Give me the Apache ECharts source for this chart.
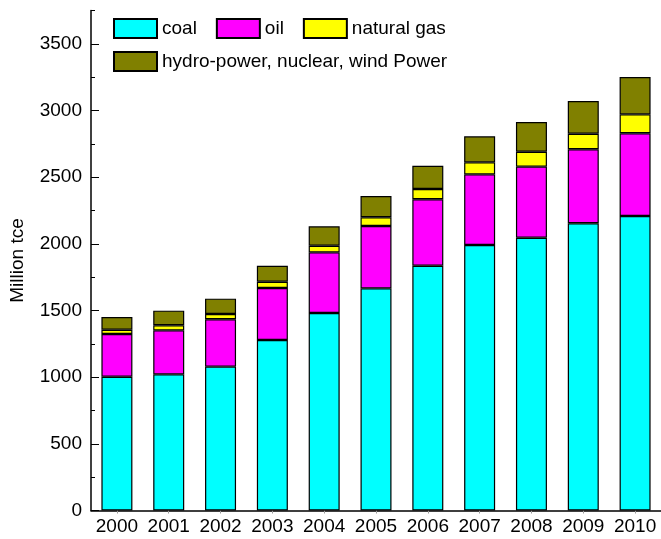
<!DOCTYPE html>
<html>
<head>
<meta charset="utf-8">
<script src="https://cdn.jsdelivr.net/npm/echarts@6/dist/echarts.min.js"></script>
<style>html,body{margin:0;padding:0;background:#fff;}#c{width:661px;height:539px;}</style>
</head>
<body>
<div id="c"></div>
<script>
const years = ['2000','2001','2002','2003','2004','2005','2006','2007','2008','2009','2010'];
const coal  = [1003, 1021, 1079, 1279, 1481, 1666, 1836, 1991, 2046, 2154, 2209];
const oil   = [321, 330, 355, 390, 455, 468, 498, 530, 533, 555, 620];
const gas   = [32, 38, 40, 47, 50, 65, 77, 90, 112, 117, 142];
const hydro = [95, 110, 115, 120, 145, 160, 175, 195, 223, 245, 280];
const seriesNames = ['coal', 'oil', 'natural gas', 'hydro-power, nuclear, wind Power'];
const seriesColors = ['#00FFFF', '#FF00FF', '#FFFF00', '#808000'];
const seriesData = [coal, oil, gas, hydro];

const FONT = 'Liberation Sans, Arial, sans-serif';
const chart = echarts.init(document.getElementById('c'), null, {renderer: 'canvas'});
const legendCommon = {
  orient: 'horizontal', itemWidth: 43, itemHeight: 19, itemGap: 19, icon: 'rect', padding: 0,
  textStyle: {fontFamily: FONT, fontSize: 19, color: '#000'}, selectedMode: false
};
chart.setOption({
  animation: false,
  backgroundColor: '#fff',
  grid: {left: 91, width: 576, top: 10.5, bottom: 28.5, containLabel: false},
  legend: [
    Object.assign({left: 113, top: 18, data: seriesNames.slice(0, 3)}, legendCommon),
    Object.assign({left: 113, top: 51, data: seriesNames.slice(3)}, legendCommon)
  ],
  xAxis: {
    type: 'category', data: years, boundaryGap: true,
    axisLine: {lineStyle: {color: '#000', width: 1.5}},
    axisTick: {show: true, alignWithLabel: true, length: 3, lineStyle: {color: '#999'}},
    axisLabel: {fontFamily: FONT, fontSize: 19, color: '#000', margin: 7, interval: 0}
  },
  yAxis: [{
    type: 'value', min: 0, max: 3750, interval: 500,
    name: 'Million tce', nameLocation: 'middle', nameGap: 64,
    nameTextStyle: {fontFamily: FONT, fontSize: 19, color: '#000'},
    axisLine: {show: true, lineStyle: {color: '#000', width: 1.5}},
    axisTick: {show: true, inside: true, length: 8, lineStyle: {color: '#000'}},
    splitLine: {show: false},
    axisLabel: {fontFamily: FONT, fontSize: 19, color: '#000', margin: 9, showMaxLabel: false,
      formatter: v => String(v)}
  }, {
    type: 'value', min: 0, max: 3750, interval: 250, position: 'left', offset: 0,
    axisLine: {show: false},
    axisTick: {show: true, inside: true, length: 4, lineStyle: {color: '#000'}},
    axisLabel: {show: false}, splitLine: {show: false}
  }],
  series: seriesNames.map((n, i) => ({
    name: n, type: 'bar', stack: 'total', barWidth: 31, yAxisIndex: 0,
    data: seriesData[i],
    itemStyle: {color: seriesColors[i], borderColor: '#000', borderWidth: 1.2}
  }))
});
</script>
</body>
</html>
